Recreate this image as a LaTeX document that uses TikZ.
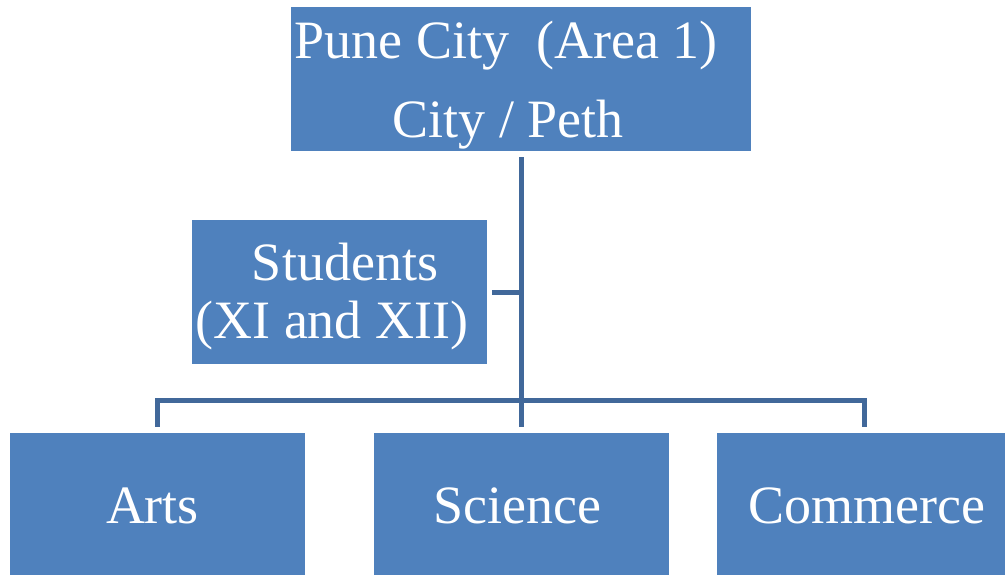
\documentclass[tikz,border=0pt]{standalone}
\usepackage{fontspec}
\setmainfont{LiberationSerif-Regular.ttf}
\usepackage{tikz}

\definecolor{boxblue}{HTML}{4F81BD}
\definecolor{lineblue}{HTML}{41689A}

\begin{document}
\begin{tikzpicture}[x=0.5pt, y=-0.5pt,
    box/.style={fill=boxblue, inner sep=0pt, minimum height=72pt},
    txt/.style={text=white, inner sep=0pt, anchor=base, font=\rmfamily\fontsize{27}{32}\selectfont},
    link/.style={draw=lineblue, line width=2.5pt}]
    % Page frame
    \clip (0,0) rectangle (1005,574);
    \fill[white] (0,0) rectangle (1005,574);

    % Boxes
    \node[box, minimum width=230pt] (top) at (521,79) {};
    \node[box, minimum width=147.5pt] (students) at (339.5,292) {};
    \node[box, minimum width=147.5pt] (arts) at (157.5,505) {};
    \node[box, minimum width=147.5pt] (science) at (521,505) {};
    \node[box, minimum width=147.5pt] (commerce) at (864.5,505) {};

    % Labels
    \node[txt] (topA) at (506,58) {Pune City\ \ (Area 1)};
    \node[txt] (topB) at (508,137) {City / Peth};
    \node[txt] (stuA) at (345,280) {Students};
    \node[txt] (stuB) at (332,338) {(XI and XII)};
    \node[txt] (artsT) at (152.5,523) {Arts};
    \node[txt] (sciT) at (517.5,523) {Science};
    \node[txt] (comT) at (867,523) {Commerce};

    % Connectors
    \coordinate (bus) at (520,400);
    \draw[link] ([yshift=-3pt]top.south) -- ([yshift=3pt]science.north);
    \draw[link] ([yshift=3pt]arts.north) |- (bus) -| ([yshift=3pt]commerce.north);
    \draw[link] ([xshift=2.5pt]students.east) -- (students.east -| science.north);
\end{tikzpicture}
\end{document}
